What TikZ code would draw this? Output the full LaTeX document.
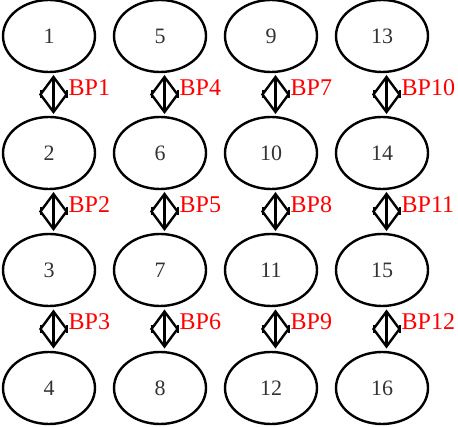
\documentclass[tikz,border=0pt]{standalone}
\usepackage{fontspec}
\setmainfont{Liberation Serif}
\usetikzlibrary{calc,shapes.geometric}
\definecolor{numgray}{HTML}{333333}
\definecolor{bpred}{HTML}{FF0000}
\tikzset{
  state/.style={draw=black, line width=2.4pt, ellipse, minimum width=92pt, minimum height=72pt, inner sep=0pt, text=numgray, font=\fontsize{22}{24}\selectfont},
  bplabel/.style={text=bpred, font=\fontsize{24}{26}\selectfont, anchor=west, inner sep=0pt},
  bpline/.style={line width=2.4pt, line join=miter, black},
}
\newcommand{\bpconn}[3]{%
  \coordinate (m#3) at ($($(#1.south)!0.5!(#2.north)$)+(4.5pt,0)$);
  \draw[bpline] ($(m#3)+(0,17.5pt)$) -- ($(m#3)+(0,-17.5pt)$);
  \draw[bpline] ($(m#3)+(0,17.5pt)$) -- ($(m#3)+(-13pt,0)$) -- ($(m#3)+(0,-17.5pt)$) -- ($(m#3)+(13pt,0)$) -- cycle;
  \draw[bpline,line width=2pt] ($(m#3)+(-13pt,4pt)$) -- ($(m#3)+(-13pt,-4pt)$);
  \draw[bpline,line width=2pt] ($(m#3)+(13pt,4pt)$) -- ($(m#3)+(13pt,-4pt)$);
  \node[bplabel] (l#3) at ($(m#3)+(15pt,7pt)$) {BP#3};%
}
\begin{document}
\begin{tikzpicture}[x=1pt,y=1pt]
\useasboundingbox (0,0) rectangle (458,-427);
\foreach \c/\cx in {0/49,1/160,2/271,3/382}{
  \foreach \r/\ry in {1/36,2/153,3/270,4/388}{
    \pgfmathtruncatemacro{\n}{\c*4+\r}
    \node[state] (e\n) at (\cx,-\ry) {\n};
  }
}
\bpconn{e1}{e2}{1}
\bpconn{e2}{e3}{2}
\bpconn{e3}{e4}{3}
\bpconn{e5}{e6}{4}
\bpconn{e6}{e7}{5}
\bpconn{e7}{e8}{6}
\bpconn{e9}{e10}{7}
\bpconn{e10}{e11}{8}
\bpconn{e11}{e12}{9}
\bpconn{e13}{e14}{10}
\bpconn{e14}{e15}{11}
\bpconn{e15}{e16}{12}
\end{tikzpicture}
\end{document}
